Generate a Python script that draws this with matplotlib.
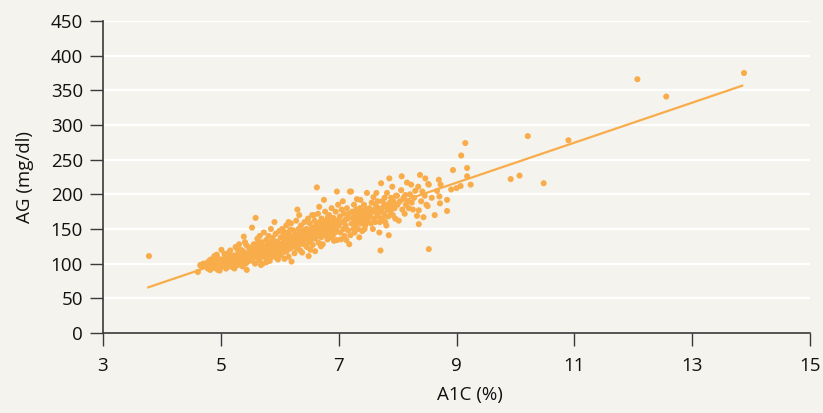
import matplotlib
matplotlib.use("Agg")
import matplotlib.pyplot as plt

plt.rcParams['font.family'] = ['Open Sans', 'DejaVu Sans']

# ---- data (A1C %, AG mg/dl) ----
pts_lo = [
    (3.78, 111),
    (4.61, 88), (4.65, 98), (4.73, 99), (4.67, 96), (4.74, 97), (4.82, 91), (4.83, 106), (4.80, 104),
    (4.89, 111), (4.95, 91), (4.86, 100), (4.78, 93), (4.90, 98), (4.92, 105), (4.97, 102), (4.84, 95),
    (4.70, 100), (4.88, 94), (4.99, 97), (4.95, 108), (4.76, 101), (4.93, 113), (4.87, 103), (4.98, 90),
    (4.81, 98),
    (5.01, 120), (5.02, 106), (5.05, 100), (5.09, 93), (5.03, 96), (5.08, 110), (5.11, 104), (5.13, 99),
    (5.16, 119), (5.12, 115), (5.15, 107), (5.18, 101), (5.20, 95), (5.23, 93), (5.25, 124), (5.22, 112),
    (5.24, 104), (5.27, 110), (5.29, 98), (5.30, 116), (5.32, 105), (5.28, 121), (5.33, 101), (5.35, 112),
    (5.36, 105), (5.38, 118), (5.39, 139), (5.40, 109), (5.42, 100), (5.44, 91), (5.45, 115), (5.47, 124),
    (5.48, 108), (5.43, 127), (5.46, 103), (5.49, 118), (5.06, 114), (5.14, 96), (5.19, 111), (5.26, 100),
    (5.31, 128), (5.37, 96), (5.41, 131), (5.21, 103), (5.34, 120),
]
pts_mid = [
    (5.53, 152), (5.59, 166), (5.73, 145), (5.63, 130), (5.51, 112), (5.52, 121), (5.54, 104), (5.56, 128),
    (5.57, 115), (5.58, 100), (5.60, 122), (5.61, 110), (5.62, 136), (5.64, 118), (5.65, 105), (5.66, 126),
    (5.67, 113), (5.68, 98), (5.69, 131), (5.70, 120), (5.71, 100), (5.72, 110), (5.74, 125), (5.75, 116),
    (5.76, 120), (5.77, 134), (5.78, 108), (5.79, 127), (5.80, 113), (5.81, 140), (5.82, 122), (5.83, 104),
    (5.84, 131), (5.85, 117), (5.86, 126), (5.87, 110), (5.88, 137), (5.89, 121), (5.90, 129), (5.91, 160),
    (5.92, 114), (5.93, 143), (5.94, 124), (5.95, 108), (5.96, 132), (5.97, 106), (5.98, 119), (5.99, 147),
    (5.55, 109), (5.66, 140), (5.77, 102), (5.85, 150),
    (6.00, 126), (6.01, 112), (6.02, 138), (6.03, 120), (6.04, 150), (6.05, 130), (6.06, 116), (6.08, 107),
    (6.07, 142), (6.09, 124), (6.10, 135), (6.11, 155), (6.12, 118), (6.13, 128), (6.14, 145), (6.15, 110),
    (6.16, 132), (6.17, 140), (6.18, 122), (6.19, 158), (6.20, 103), (6.21, 134), (6.22, 127), (6.23, 148),
    (6.24, 138), (6.25, 115), (6.26, 143), (6.27, 130), (6.28, 162), (6.29, 122), (6.30, 178), (6.31, 136),
    (6.32, 150), (6.33, 127), (6.34, 141), (6.35, 119), (6.36, 155), (6.37, 133), (6.38, 116), (6.39, 146),
    (6.40, 138), (6.41, 128), (6.42, 160), (6.43, 143), (6.44, 135), (6.45, 150), (6.46, 124), (6.47, 140),
    (6.48, 165), (6.49, 111), (6.06, 147), (6.12, 137), (6.18, 149), (6.24, 125), (6.30, 142), (6.36, 131),
    (6.42, 148), (6.47, 130), (6.15, 160), (6.33, 170),
    (6.50, 145), (6.51, 158), (6.52, 133), (6.53, 150), (6.54, 140), (6.55, 170), (6.56, 127), (6.57, 152),
    (6.58, 143), (6.59, 162), (6.60, 136), (6.61, 148), (6.62, 155), (6.63, 210), (6.64, 140), (6.65, 172),
    (6.66, 130), (6.67, 150), (6.68, 160), (6.69, 145), (6.70, 138), (6.71, 165), (6.72, 153), (6.73, 128),
    (6.74, 147), (6.75, 192), (6.76, 158), (6.77, 175), (6.78, 141), (6.79, 150), (6.80, 163), (6.81, 135),
    (6.82, 155), (6.83, 145), (6.84, 170), (6.85, 138), (6.86, 160), (6.87, 148), (6.88, 180), (6.89, 152),
    (6.90, 140), (6.91, 166), (6.92, 133), (6.93, 157), (6.94, 145), (6.95, 175), (6.96, 150), (6.97, 204),
    (6.98, 162), (6.99, 185), (6.52, 120), (6.58, 170), (6.64, 157), (6.70, 125), (6.76, 145), (6.82, 168),
    (6.88, 143), (6.94, 160), (6.97, 134), (6.55, 148), (6.67, 182), (6.73, 162), (6.85, 150), (6.91, 145),
    (6.60, 118),
]
pts_hi = [
    (7.00, 155), (7.02, 168), (7.03, 145), (7.05, 178), (7.06, 160), (7.08, 150), (7.09, 172), (7.10, 140),
    (7.11, 163), (7.12, 155), (7.13, 134), (7.14, 180), (7.15, 165), (7.16, 148), (7.17, 172), (7.19, 204),
    (7.20, 141), (7.21, 204), (7.22, 158), (7.23, 175), (7.24, 166), (7.25, 150), (7.26, 185), (7.27, 160),
    (7.28, 170), (7.29, 155), (7.30, 178), (7.31, 193), (7.32, 162), (7.33, 150), (7.34, 172), (7.35, 165),
    (7.36, 180), (7.37, 192), (7.38, 158), (7.39, 170), (7.40, 147), (7.41, 175), (7.42, 163), (7.43, 185),
    (7.44, 168), (7.45, 155), (7.46, 178), (7.47, 160), (7.48, 202), (7.49, 172), (7.04, 135), (7.18, 128),
    (7.07, 190), (7.27, 145), (7.35, 138), (7.44, 150),
    (7.50, 165), (7.52, 180), (7.53, 170), (7.55, 158), (7.56, 188), (7.57, 175), (7.59, 196), (7.60, 165),
    (7.61, 178), (7.62, 160), (7.63, 185), (7.64, 202), (7.65, 172), (7.66, 190), (7.67, 168), (7.68, 180),
    (7.70, 160), (7.71, 119), (7.72, 216), (7.73, 175), (7.74, 190), (7.75, 165), (7.76, 182), (7.77, 172),
    (7.78, 195), (7.79, 160), (7.80, 185), (7.82, 202), (7.83, 178), (7.84, 168), (7.85, 141), (7.86, 223),
    (7.87, 188), (7.88, 175), (7.89, 195), (7.90, 182), (7.91, 211), (7.92, 170), (7.93, 190), (7.95, 180),
    (7.96, 165), (7.97, 198), (7.99, 198), (7.58, 150), (7.69, 145), (7.81, 155),
    (8.00, 185), (8.02, 162), (8.04, 190), (8.06, 206), (8.07, 226), (8.08, 178), (8.10, 195), (8.12, 172),
    (8.13, 199), (8.14, 185), (8.16, 217), (8.17, 190), (8.19, 180), (8.21, 200), (8.23, 214), (8.24, 188),
    (8.26, 178), (8.28, 195), (8.30, 205), (8.33, 169), (8.35, 211), (8.36, 177), (8.36, 157), (8.38, 228),
    (8.40, 190), (8.42, 204), (8.44, 167), (8.46, 198), (8.47, 223), (8.49, 185),
]
pts_top = [
    (8.51, 183), (8.52, 215), (8.53, 121), (8.53, 214), (8.58, 195), (8.63, 170), (8.67, 205), (8.70, 221),
    (8.71, 197), (8.72, 187), (8.73, 214), (8.84, 192), (8.84, 176), (8.91, 207), (8.94, 235), (9.00, 209),
    (9.07, 212), (9.08, 256), (9.15, 274), (9.18, 238), (9.18, 226), (9.24, 214), (9.92, 222), (10.07, 227),
    (10.21, 284), (10.48, 216), (10.90, 278), (12.07, 366), (12.56, 341), (13.88, 375),
]
points = pts_lo + pts_mid + pts_hi + pts_top
a1c = [p[0] for p in points]
ag = [p[1] for p in points]

# regression line end points
fit_a1c = [3.77, 13.85]
fit_ag = [65.9, 356.7]

x_ticks = [3, 5, 7, 9, 11, 13, 15]
y_ticks = [0, 50, 100, 150, 200, 250, 300, 350, 400, 450]

# ---- style ----
BG = '#F4F3EE'
ORANGE = '#F8AC4A'
DARK = '#3a3a3a'
TXT = '#111111'

fig = plt.figure(figsize=(8.23, 4.13), dpi=100, facecolor=BG)
ax = fig.add_axes([103 / 823, 80 / 413, 707 / 823, 312 / 413])
ax.set_facecolor(BG)

for yt in y_ticks[1:]:
    ax.axhline(yt, color='white', lw=1.6, zorder=0)

ax.scatter(a1c, ag, s=19, color=ORANGE, edgecolors='none', zorder=3)
ax.plot(fit_a1c, fit_ag, color=ORANGE, lw=1.6, zorder=4)

ax.set_xlim(3, 15)
ax.set_ylim(0, 450)
ax.set_xticks(x_ticks)
ax.set_yticks(y_ticks)
ax.set_xticklabels([str(t) for t in x_ticks])
ax.set_yticklabels([str(t) for t in y_ticks])

for s in ['top', 'right']:
    ax.spines[s].set_visible(False)
for s in ['left', 'bottom']:
    ax.spines[s].set_color(DARK)
    ax.spines[s].set_linewidth(1.2)

ax.tick_params(axis='both', direction='out', length=9.5, width=1.0, color=DARK,
               labelsize=13.5, labelcolor=TXT)
ax.tick_params(axis='x', pad=8)
ax.tick_params(axis='y', pad=5)

ax.set_xlabel('A1C (%)', fontsize=13.5, color=TXT)
ax.set_ylabel('AG (mg/dl)', fontsize=13.5, color=TXT)
ax.xaxis.set_label_coords((470 - 103) / 707, -(386 - 333) / 312)
ax.yaxis.set_label_coords(-(103 - 34) / 707, 0.5)

fig.savefig('out.png', dpi=100, facecolor=BG)
